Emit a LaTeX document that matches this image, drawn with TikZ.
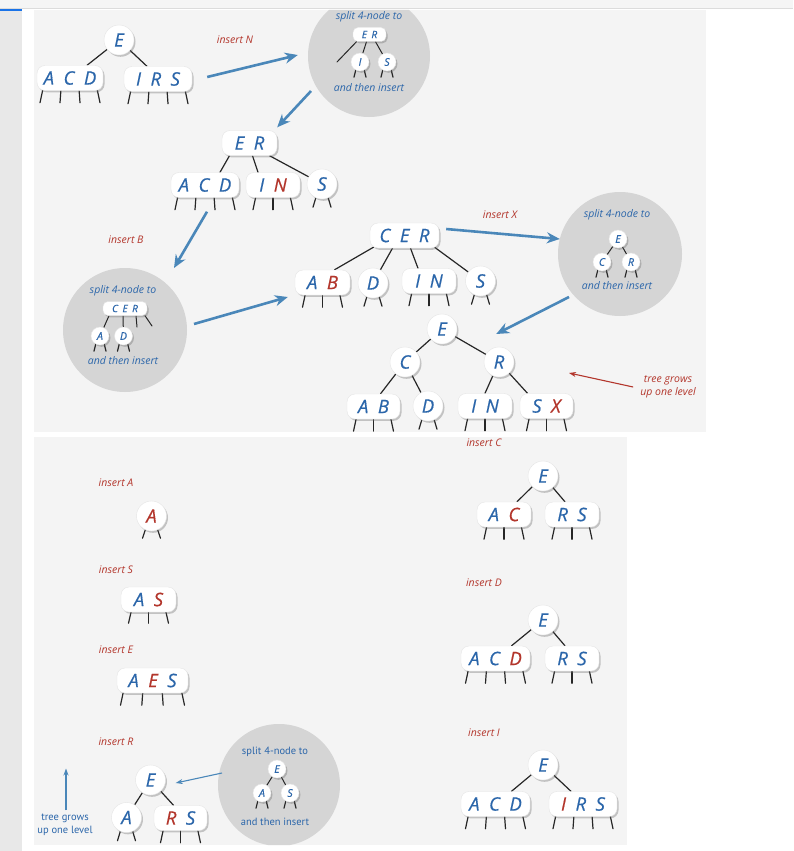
\documentclass[tikz,border=0pt]{standalone}
\usepackage{fontspec}
\setmainfont{Open Sans}
\newfontfamily\keyfont{Open Sans}[FakeBold=0.5]
\newfontfamily\comicfont{PT Sans}
\usetikzlibrary{shadows,arrows.meta,calc}
\definecolor{kblue}{HTML}{2B66AA}
\definecolor{kred}{HTML}{B3362C}
\definecolor{ablue}{HTML}{4A87B9}
\definecolor{panelc}{HTML}{F4F4F4}
\definecolor{cgray}{HTML}{D5D5D5}
\definecolor{stripc}{HTML}{E8E8E8}
\definecolor{topbar}{HTML}{F5F5F5}
\definecolor{topline}{HTML}{DCDCDC}
\definecolor{tabblue}{HTML}{1A73E8}
\pgfdeclarelayer{back}
\pgfdeclarelayer{bg}
\pgfsetlayers{back,bg,main}
\newcommand\Rd[1]{\textcolor{kred}{#1}}
\newcommand\gp{\hspace{9.5pt}}
\newcommand\sgp{\hspace{4.5pt}}
\newcommand\stubs[5]{%
  \foreach \si in {1,...,#2}{%
    \pgfmathsetmacro\stubt{2*(\si-1)/(#2-1)-1}%
    \draw[tline] ($(#1.south)+(\stubt*#3,-2)$) -- ($(#1.south)+(\stubt*#4,#5)$);
  }}
\tikzset{
  knode/.style={fill=white, draw=black!10, line width=0.4pt,
    drop shadow={shadow xshift=1.5pt, shadow yshift=-1.8pt, opacity=0.35, fill=black!60},
    text=kblue, inner sep=0pt},
  kc/.style={knode, circle, minimum size=30pt, font=\keyfont\fontsize{18.5}{20}\selectfont\itshape},
  kr/.style={knode, rectangle, rounded corners=8pt, minimum height=25pt, font=\keyfont\fontsize{18.5}{20}\selectfont\itshape},
  skc/.style={knode, circle, minimum size=18pt, font=\keyfont\fontsize{10.5}{12}\selectfont\itshape},
  skr/.style={knode, rectangle, rounded corners=5pt, minimum height=14pt, font=\keyfont\fontsize{10}{12}\selectfont\itshape},
  lbl/.style={inner sep=0pt, text=kred, font=\fontsize{10.5}{12.5}\selectfont\itshape, align=center},
  blbl/.style={lbl, text=kblue},
  clbl/.style={inner sep=0pt, text=kblue, font=\comicfont\fontsize{10.5}{13}\selectfont, align=center},
  gcirc/.style={circle, fill=cgray, inner sep=0pt, draw=none},
  tline/.style={line width=1.2pt, black!85, line cap=round},
  bigarrow/.style={line width=2.6pt, ablue, -{Stealth[length=13pt,width=11pt]}},
  thinarrow/.style={line width=1.1pt, -{Stealth[length=7pt,width=5pt]}},
}
\begin{document}
\begin{tikzpicture}[x=1pt,y=-1pt]
\useasboundingbox (0,0) rectangle (793,851);

\begin{pgfonlayer}{back}
\fill[white] (0,0) rectangle (793,851);
\fill[topbar] (0,0) rectangle (793,8);
\draw[topline, line width=0.8pt] (0,8.5) -- (793,8.5);
\fill[tabblue] (0,9) rectangle (22,11.5);
\fill[stripc] (0,11.5) rectangle (22,851);
\fill[panelc] (34,10) rectangle (706,431.5);
\fill[panelc] (34,437) rectangle (627,845);
\begin{scope}
\clip (34,10) rectangle (706,431.5) (34,437) rectangle (627,845);
\node[gcirc, minimum size=122pt] (c1) at (369,56) {};
\node[gcirc, minimum size=124pt] (c2) at (125,330) {};
\node[gcirc, minimum size=124pt] (c3) at (620,254) {};
\node[gcirc, minimum size=122pt] (c4) at (279,785) {};
\end{scope}
\end{pgfonlayer}

% ---------- top panel ----------
% tree 1
\node[kc] (t1E) at (119,40) {E};
\node[kr, minimum width=66pt] (t1L) at (70,78) {A\gp C\gp D};
\node[kr, minimum width=68pt] (t1R) at (158,79) {I\gp R\gp S};
\node[lbl] (insN) at (235,40) {insert N};

% circle 1
\node[blbl] (c1top) at (369,17) {split 4-node to};
\node[skr, minimum width=33pt] (c1P) at (369.5,34.5) {E\sgp R};
\node[skc] (c1I) at (360,62) {I};
\node[skc] (c1S) at (387,62) {S};
\node[blbl] (c1bot) at (369,88) {and then insert};
\coordinate (c1x) at (337,62);

% tree 2
\node[kr, minimum width=55pt] (t2P) at (249.5,143) {E\gp R};
\node[kr, minimum width=68pt] (t2L) at (205,185) {A\gp C\gp D};
\node[kr, minimum width=54pt] (t2M) at (273,185) {I\gp\Rd{N}};
\node[kc] (t2S) at (322,184) {S};
\node[lbl] (insB) at (126,240) {insert B};

% circle 2
\node[blbl] (c2top) at (123,291) {split 4-node to};
\node[skr, minimum width=44pt] (c2P) at (125,308.5) {C\sgp E\sgp R};
\node[skc] (c2A) at (100,336) {A};
\node[skc] (c2D) at (123.5,336) {D};
\node[blbl] (c2bot) at (123,361) {and then insert};
\coordinate (c2x1) at (137,327);
\coordinate (c2x2) at (152,326);

% tree 3
\node[kr, minimum width=69pt] (t3P) at (404.5,235.5) {C\gp E\gp R};
\node[kr, minimum width=55pt] (t3A) at (322.5,282.5) {A\gp\Rd{B}};
\node[kc] (t3D) at (373,283) {D};
\node[kr, minimum width=54pt] (t3I) at (429,281) {I\gp N};
\node[kc] (t3S) at (480.5,281) {S};
\node[lbl] (insX) at (500,215) {insert X};

% circle 3
\node[blbl] (c3top) at (617,215) {split 4-node to};
\node[skc] (c3E) at (618,239) {E};
\node[skc] (c3C) at (602,262) {C};
\node[skc] (c3R) at (631,262) {R};
\node[blbl] (c3bot) at (617,286) {and then insert};

% tree 4
\node[kc] (t4E) at (442,329) {E};
\node[kc] (t4C) at (405,362) {C};
\node[kc] (t4R) at (499,362) {R};
\node[kr, minimum width=53pt] (t4A) at (373.5,406.5) {A\gp B};
\node[kc] (t4D) at (428,406) {D};
\node[kr, minimum width=54pt] (t4I) at (485,406) {I\gp N};
\node[kr, minimum width=53pt] (t4S) at (546.5,406) {S\gp\Rd{X}};
\node[lbl] (tg1) at (668,387) {tree grows\\up one level};
\coordinate (tgend) at (569,373);

% ---------- bottom panel ----------
\node[lbl] (insA) at (116,483) {insert A};
\node[kc] (bA) at (151.5,516) {\Rd{A}};
\node[lbl] (insS) at (116,570) {insert S};
\node[kr, minimum width=55pt] (bAS) at (148.5,599.5) {A\gp\Rd{S}};
\node[lbl] (insE) at (116,650) {insert E};
\node[kr, minimum width=71pt] (bAES) at (152.5,680.5) {A\gp\Rd{E}\gp S};
\node[lbl] (insR) at (116,742) {insert R};
\node[kc] (bE) at (150.5,780) {E};
\node[kc] (bA2) at (126.5,817.5) {A};
\node[kr, minimum width=53pt] (bRS) at (180.5,818) {\Rd{R}\gp S};
\node[clbl] (tg2) at (65,824.5) {tree grows\\up one level};

% circle 4
\node[clbl] (c4top) at (275,752) {split 4-node to};
\node[skc] (c4E) at (277,769) {E};
\node[skc] (c4A) at (262,793) {A};
\node[skc] (c4S) at (290,793) {S};
\node[clbl] (c4bot) at (275,822) {and then insert};

% right column
\node[lbl] (insC) at (484,443) {insert C};
\node[kc] (rE1) at (543,476) {E};
\node[kr, minimum width=54pt] (rL1) at (504,514.5) {A\gp\Rd{C}};
\node[kr, minimum width=54pt] (rR1) at (572,514.5) {R\gp S};
\node[lbl] (insD) at (484,583) {insert D};
\node[kc] (rE2) at (543,620) {E};
\node[kr, minimum width=69pt] (rL2) at (495.5,658.5) {A\gp C\gp\Rd{D}};
\node[kr, minimum width=54pt] (rR2) at (572,658.5) {R\gp S};
\node[lbl] (insI) at (484,733) {insert I};
\node[kc] (rE3) at (543,765) {E};
\node[kr, minimum width=69pt] (rL3) at (495.5,804) {A\gp C\gp D};
\node[kr, minimum width=68pt] (rR3) at (583,804) {\Rd{I}\gp R\gp S};

% ---------- edges and stubs ----------
\begin{pgfonlayer}{bg}
\begin{scope}
\clip (34,10) rectangle (706,431.5) (34,437) rectangle (627,845);
% tree 1
\draw[tline] (t1E) -- ($(t1L.north)+(17,0)$);
\draw[tline] (t1E) -- ($(t1R.north)+(-11,0)$);
\stubs{t1L}{4}{27}{30}{12}
\stubs{t1R}{4}{27}{30}{12}
% circle 1
\draw[tline, line width=1pt] ($(c1P.south)+(-13,0)$) -- (c1x);
\draw[tline, line width=1pt] ($(c1P.south)+(-3,0)$) -- (c1I);
\draw[tline, line width=1pt] ($(c1P.south)+(6,0)$) -- (c1S);
\stubs{c1I}{2}{4}{6}{6}
\stubs{c1S}{2}{4}{6}{6}
% tree 2
\draw[tline] ($(t2P.south)+(-20,0)$) -- ($(t2L.north)+(15,0)$);
\draw[tline] ($(t2P.south)+(3,0)$) -- ($(t2M.north)+(-15,0)$);
\draw[tline] ($(t2P.south)+(20,0)$) -- (t2S);
\stubs{t2L}{4}{27}{30}{12}
\stubs{t2M}{3}{17}{20}{12}
\stubs{t2S}{2}{6}{9}{8}
% circle 2
\draw[tline, line width=1pt] ($(c2P.south)+(-16,0)$) -- (c2A);
\draw[tline, line width=1pt] ($(c2P.south)+(-2,0)$) -- (c2D);
\draw[tline, line width=1pt] ($(c2P.south)+(11,0)$) -- (c2x1);
\draw[tline, line width=1pt] ($(c2P.south)+(20,0)$) -- (c2x2);
\stubs{c2A}{2}{4}{6}{6}
\stubs{c2D}{2}{4}{6}{6}
% tree 3
\draw[tline] ($(t3P.south)+(-31,-1)$) -- ($(t3A.north)+(12,0)$);
\draw[tline] ($(t3P.south)+(-12,0)$) -- (t3D);
\draw[tline] ($(t3P.south)+(6,0)$) -- ($(t3I.north)+(-11,0)$);
\draw[tline] ($(t3P.south)+(30,-1)$) -- (t3S);
\stubs{t3A}{3}{17}{20}{12}
\stubs{t3D}{2}{6}{9}{8}
\stubs{t3I}{3}{17}{20}{12}
\stubs{t3S}{2}{6}{9}{8}
% circle 3
\draw[tline, line width=1pt] (c3E) -- (c3C);
\draw[tline, line width=1pt] (c3E) -- (c3R);
\stubs{c3C}{2}{4}{6}{6}
\stubs{c3R}{2}{4}{6}{6}
% tree 4
\draw[tline] (t4E) -- (t4C);
\draw[tline] (t4E) -- (t4R);
\draw[tline] (t4C) -- ($(t4A.north)+(7,0)$);
\draw[tline] (t4C) -- (t4D);
\draw[tline] (t4R) -- (t4I.north);
\draw[tline] (t4R) -- ($(t4S.north)+(-19,0)$);
\stubs{t4A}{3}{17}{20}{12}
\stubs{t4D}{2}{6}{9}{8}
\stubs{t4I}{3}{17}{20}{12}
\stubs{t4S}{3}{17}{20}{12}
% bottom-left
\stubs{bA}{2}{6}{9}{7}
\stubs{bAS}{3}{17}{20}{11}
\stubs{bAES}{4}{29}{32}{12}
\draw[tline] (bE) -- (bA2);
\draw[tline] (bE) -- ($(bRS.north)+(-7,0)$);
\stubs{bA2}{2}{6}{9}{8}
\stubs{bRS}{3}{17}{20}{12}
% circle 4
\draw[tline, line width=1pt] (c4E) -- (c4A);
\draw[tline, line width=1pt] (c4E) -- (c4S);
\stubs{c4A}{2}{4}{6}{6}
\stubs{c4S}{2}{4}{6}{6}
% right column
\draw[tline] (rE1) -- ($(rL1.north)+(13,0)$);
\draw[tline] (rE1) -- ($(rR1.north)+(-7,0)$);
\stubs{rL1}{3}{17}{20}{12}
\stubs{rR1}{3}{17}{20}{12}
\draw[tline] (rE2) -- ($(rL2.north)+(16,0)$);
\draw[tline] (rE2) -- ($(rR2.north)+(-7,0)$);
\stubs{rL2}{4}{27}{30}{12}
\stubs{rR2}{3}{17}{20}{12}
\draw[tline] (rE3) -- ($(rL3.north)+(16,0)$);
\draw[tline] (rE3) -- ($(rR3.north)+(-12,0)$);
\stubs{rL3}{4}{27}{30}{12}
\stubs{rR3}{4}{27}{30}{12}
\end{scope}
\end{pgfonlayer}

% ---------- arrows ----------
\draw[bigarrow] ($(t1R.east)+(15,-2)$) -- ($(c1.west)+(-10,-1)$);
\draw[bigarrow] ($(c1.center)+(-58,35)$) -- ($(t2P.north east)+(0,-3)$);
\draw[bigarrow] ($(t2L.south)+(2,14)$) -- ($(c2.center)+(49,-62)$);
\draw[bigarrow] ($(c2.center)+(69,-6)$) -- ($(t3A.west)+(-7,14.5)$);
\draw[bigarrow] ($(t3P.east)+(7,-6.5)$) -- ($(c3.west)+(2,-15)$);
\draw[bigarrow] ($(c3.center)+(-51,43)$) -- ($(t4E.east)+(39,5)$);
\draw[thinarrow, kred] ($(tg1.west)+(-7,0)$) -- (tgend);
\draw[thinarrow, ablue] ($(tg2.north)+(1,-3)$) -- ++(0,-42);
\draw[thinarrow, ablue] ($(c4.center)+(-57,-12)$) -- ($(bE.east)+(10,3)$);
\end{tikzpicture}
\end{document}
